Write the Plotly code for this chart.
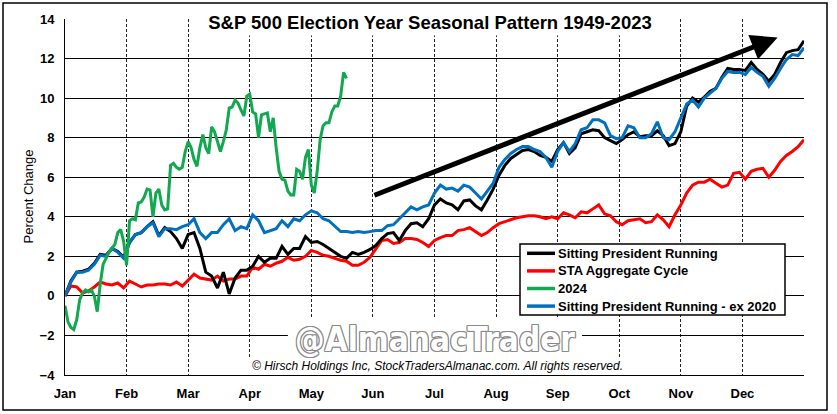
import plotly.graph_objects as go

# ---------------- data (percent change, trading-day index) ----------------
MONTHS = ["Jan", "Feb", "Mar", "Apr", "May", "Jun", "Jul", "Aug", "Sep", "Oct", "Nov", "Dec"]
DAYS_PER_MONTH = 21
STEP = 2  # series sampled every 2 trading days

sitting_president = [
    0.0, 0.75, 1.2, 1.25, 1.35, 1.65, 2.1, 2.05, 2.4, 2.25, 1.95, 2.7, 3.1, 3.2, 3.5, 3.75, 3.05, 3.45, 3.25, 2.9, 2.4,
    3.1, 3.2, 2.4, 1.2, 1.0, 0.4, 1.2, 0.1, 0.9, 1.3, 1.3, 1.5, 2.0, 1.7, 1.9, 1.9, 2.5, 2.1, 2.4, 2.4, 3.0, 2.7,
    2.75, 2.6, 2.4, 2.2, 2.0, 1.9, 2.2, 2.1, 2.2, 2.35, 2.55, 2.9, 3.15, 3.2, 2.8, 3.3, 3.65, 3.7, 3.5, 3.9, 4.6, 4.9,
    4.7, 4.6, 4.35, 4.8, 4.85, 4.55, 4.35, 4.85, 5.4, 6.1, 6.6, 6.95, 7.15, 7.35, 7.4, 7.3, 7.1, 7.0, 6.8, 7.4,
    7.75, 7.2, 7.5, 8.2, 8.3, 8.4, 8.35, 8.0, 7.85, 7.7, 7.9, 8.15, 8.3, 8.05, 8.1, 8.1, 8.35, 8.1, 7.6, 7.7, 8.3,
    9.6, 10.0, 9.8, 10.05, 10.35, 10.5, 11.05, 11.5, 11.45, 11.45, 11.4, 11.8, 11.45, 11.2, 10.85, 11.2, 11.8,
    12.3, 12.4, 12.45, 12.9,
]

sta_aggregate = [
    0.0, 0.5, 0.45, 0.15, 0.25, 0.45, 0.7, 0.6, 0.55, 0.65, 0.4, 0.75, 0.6, 0.45, 0.55, 0.55, 0.6, 0.6, 0.55, 0.7, 0.5,
    0.8, 1.1, 0.9, 0.85, 0.8, 1.0, 0.75, 0.85, 0.85, 1.0, 1.0, 1.45, 1.35, 1.6, 1.5, 1.65, 1.75, 1.95, 1.8, 1.85, 2.0, 2.3,
    2.2, 2.05, 2.0, 1.9, 1.8, 1.75, 1.55, 1.55, 1.7, 1.95, 2.35, 2.8, 2.85, 2.65, 2.7, 2.9, 2.9, 2.85, 2.7, 2.5, 2.8, 2.95,
    3.05, 3.05, 3.3, 3.35, 3.45, 3.25, 3.05, 3.2, 3.45, 3.65, 3.75, 3.85, 3.95, 4.0, 4.05, 4.05, 4.0, 3.9, 4.0, 3.9,
    4.2, 4.1, 3.95, 4.25, 4.2, 4.4, 4.6, 4.15, 4.05, 3.75, 3.6, 3.8, 3.85, 3.9, 3.7, 3.75, 4.1, 3.85, 3.5, 4.1, 4.6, 5.2,
    5.6, 5.75, 5.75, 5.9, 5.7, 5.5, 5.6, 6.2, 6.25, 5.9, 6.3, 6.4, 6.45, 6.0, 6.35, 6.8, 7.1, 7.3, 7.55, 7.9,
]

ex_2020 = [
    0.0, 0.7, 1.2, 1.2, 1.3, 1.6, 2.05, 2.0, 2.4, 2.2, 1.9, 2.7, 3.1, 3.2, 3.5, 3.7, 3.0, 3.4, 3.4, 3.35, 3.5,
    3.6, 3.9, 3.2, 2.9, 3.2, 3.2, 3.6, 3.9, 3.3, 3.5, 3.4, 4.1, 3.8, 3.2, 3.3, 3.4, 3.8, 3.5, 3.9, 3.8, 4.1, 4.3,
    4.2, 3.9, 3.8, 3.55, 3.25, 3.25, 3.2, 3.25, 3.2, 3.25, 3.3, 3.3, 3.55, 3.6, 3.9, 4.2, 4.5, 4.35, 4.5, 4.6, 5.2, 5.6,
    5.4, 5.45, 5.3, 5.6, 5.5, 5.2, 4.9, 5.3, 5.7, 6.5, 6.9, 7.2, 7.4, 7.55, 7.55, 7.4, 7.3, 7.0, 6.5, 7.3,
    7.75, 7.3, 7.7, 8.4, 8.5, 8.9, 8.9, 8.75, 8.1, 7.95, 8.0, 8.6, 8.5, 8.0, 8.0, 8.2, 8.8, 8.0, 7.9, 8.3, 9.0,
    9.7, 9.9, 9.55, 10.0, 10.25, 10.5, 11.0, 11.35, 11.3, 11.3, 11.2, 11.55, 11.3, 11.1, 10.6, 11.0, 11.5,
    11.95, 12.2, 12.15, 12.55,
]

year_2024 = [  # daily, through mid-May
    -0.5, -1.3, -1.6, -1.7, -1.2, -0.2, 0.15, 0.3, 0.2, 0.3, 0.0, -0.8, 0.6, 1.6, 1.9, 2.2, 2.4, 2.6, 3.2, 3.35,
    2.75, 1.55, 3.8, 3.9, 3.85, 4.7, 4.75, 5.0, 5.4, 5.35, 4.0, 5.2, 5.4, 4.6, 4.35, 4.4, 6.6, 6.7, 6.5, 6.4,
    6.5, 7.3, 7.8, 7.5, 6.9, 6.55, 7.5, 8.15, 7.5, 7.2, 8.55, 8.3, 7.8, 7.3, 7.8, 8.4, 9.5, 9.55, 9.9, 9.75,
    9.4, 9.1, 10.1, 10.2, 9.3, 9.2, 8.0, 9.15, 9.2, 9.25, 8.3, 9.0, 7.5, 6.3, 5.9, 5.85, 5.3, 5.1, 5.1, 6.4,
    6.3, 5.9, 7.0, 7.4, 5.6, 5.2, 6.3, 7.9, 8.6, 8.75, 8.75, 9.3, 9.6, 9.6, 10.1, 11.3, 11.0,
]

SERIES_NAMES = ["Sitting President Running", "STA Aggregate Cycle", "2024", "Sitting President Running - ex 2020"]
SERIES_COLORS = ["#000000", "#ff0000", "#12a84f", "#0070c0"]

TITLE = "S&P 500 Election Year Seasonal Pattern 1949-2023"
WATERMARK = "@AlmanacTrader"
COPYRIGHT = "© Hirsch Holdings Inc, StockTradersAlmanac.com. All rights reserved."

# trend arrow (tail -> head) in data units
ARROW_TAIL = (105, 5.06)
ARROW_HEAD = (243, 13.06)

# ---------------- layout helpers (pixel -> paper) ----------------
W, H = 837, 414
ML, MR, MT, MB = 65, 33, 19, 39
PW, PH = W - ML - MR, H - MT - MB


def px(x):
    return (x - ML) / PW


def py(y):
    return (H - MB - y) / PH


FONT = "Liberation Sans, Arial, sans-serif"

# ---------------- figure ----------------
days_main = list(range(0, STEP * len(sitting_president), STEP))
days_2024 = list(range(len(year_2024)))
x_end = days_main[-1]

fig = go.Figure()
fig.add_trace(go.Scatter(x=days_main, y=sta_aggregate, mode="lines", name=SERIES_NAMES[1],
                         line=dict(color=SERIES_COLORS[1], width=3)))
fig.add_trace(go.Scatter(x=days_main, y=sitting_president, mode="lines", name=SERIES_NAMES[0],
                         line=dict(color=SERIES_COLORS[0], width=3)))
fig.add_trace(go.Scatter(x=days_main, y=ex_2020, mode="lines", name=SERIES_NAMES[3],
                         line=dict(color=SERIES_COLORS[3], width=3)))
fig.add_trace(go.Scatter(x=days_2024, y=year_2024, mode="lines", name=SERIES_NAMES[2],
                         line=dict(color=SERIES_COLORS[2], width=3)))

tickvals = [i * DAYS_PER_MONTH for i in range(len(MONTHS) + 1)]
ticktext = MONTHS + [""]

fig.update_xaxes(
    range=[0, x_end], tickvals=tickvals, ticktext=ticktext,
    showgrid=True, gridcolor="#222222", gridwidth=1, griddash="3px,2px",
    showline=True, linecolor="black", linewidth=1,
    zeroline=False, ticks="", ticklabelstandoff=6,
    tickfont=dict(family=FONT, size=13, color="black", weight="bold"),
)
fig.update_yaxes(
    range=[-4, 14], dtick=2, tick0=0,
    showgrid=True, gridcolor="black", gridwidth=1,
    showline=True, linecolor="black", linewidth=1,
    zeroline=False, ticks="", ticklabelstandoff=7,
    tickfont=dict(family=FONT, size=13, color="black", weight="bold"),
)

shapes = [
    # white patch behind watermark image
    dict(type="rect", xref="x", yref="y", x0=76, x1=176.3, y0=-4, y1=-1.11,
         fillcolor="white", line=dict(width=0), layer="between"),
    # white patch behind copyright text
    dict(type="rect", xref="x", yref="y", x0=62.4, x1=191.3, y0=-4, y1=-3.09,
         fillcolor="white", line=dict(width=0), layer="between"),
    # outer frame
    dict(type="rect", xref="paper", yref="paper", x0=px(3), x1=px(827), y0=py(410), y1=py(3),
         line=dict(color="black", width=1.5), fillcolor="rgba(0,0,0,0)", layer="above"),
    # legend box
    dict(type="rect", xref="paper", yref="paper", x0=px(520), x1=px(785), y0=py(315), y1=py(244),
         line=dict(color="black", width=1.5), fillcolor="white", layer="above"),
]

annotations = [
    dict(text=f"<b>{TITLE}</b>", xref="paper", yref="paper", x=px(430), y=py(22),
         xanchor="center", yanchor="middle", showarrow=False, bgcolor="white", width=462, height=24,
         font=dict(family=FONT, size=18.5, color="black")),
    dict(text="Percent Change", xref="paper", yref="paper", x=px(28), y=py(196.5),
         xanchor="center", yanchor="middle", textangle=-90, showarrow=False,
         font=dict(family=FONT, size=13, color="black")),
    dict(text=WATERMARK, xref="paper", yref="paper", x=px(435), y=py(339),
         xanchor="center", yanchor="middle", showarrow=False,
         font=dict(family="Liberation Sans Narrow, DejaVu Sans Condensed, Roboto Condensed, sans-serif",
                   size=33, color="white", weight="bold",
                   shadow="1px 0 #8a8a8a, -1px 0 #8a8a8a, 0 1px #8a8a8a, 0 -1px #8a8a8a, "
                          "1px 1px #8a8a8a, -1px -1px #8a8a8a, 1px -1px #8a8a8a, -1px 1px #8a8a8a")),
    dict(text=f"<i>{COPYRIGHT}</i>", xref="paper", yref="paper", x=px(437.5), y=py(366),
         xanchor="center", yanchor="middle", showarrow=False,
         font=dict(family=FONT, size=12, color="black")),
    dict(text="", x=ARROW_HEAD[0], y=ARROW_HEAD[1], ax=ARROW_TAIL[0], ay=ARROW_TAIL[1],
         xref="x", yref="y", axref="x", ayref="y", showarrow=True,
         arrowhead=2, arrowsize=1.05, arrowwidth=5, arrowcolor="black", standoff=0),
]

# legend entries (drawn as key lines + labels)
row_y = [253.3, 270.9, 288.5, 306.1]
for name, color, ry in zip(SERIES_NAMES, SERIES_COLORS, row_y):
    shapes.append(dict(type="line", xref="paper", yref="paper", x0=px(527), x1=px(555), y0=py(ry), y1=py(ry),
                       line=dict(color=color, width=3.5), layer="above"))
    annotations.append(dict(text=f"<b>{name}</b>", xref="paper", yref="paper", x=px(556), y=py(ry),
                            xanchor="left", yanchor="middle", showarrow=False,
                            font=dict(family=FONT, size=13, color="black")))

fig.update_layout(
    width=W, height=H,
    margin=dict(l=ML, r=MR, t=MT, b=MB),
    paper_bgcolor="white", plot_bgcolor="white",
    showlegend=False,
    shapes=shapes,
    annotations=annotations,
)

fig.write_html("out.html", config={"displayModeBar": False},
               post_script="document.body.style.margin='0px';document.body.style.overflow='hidden';")
